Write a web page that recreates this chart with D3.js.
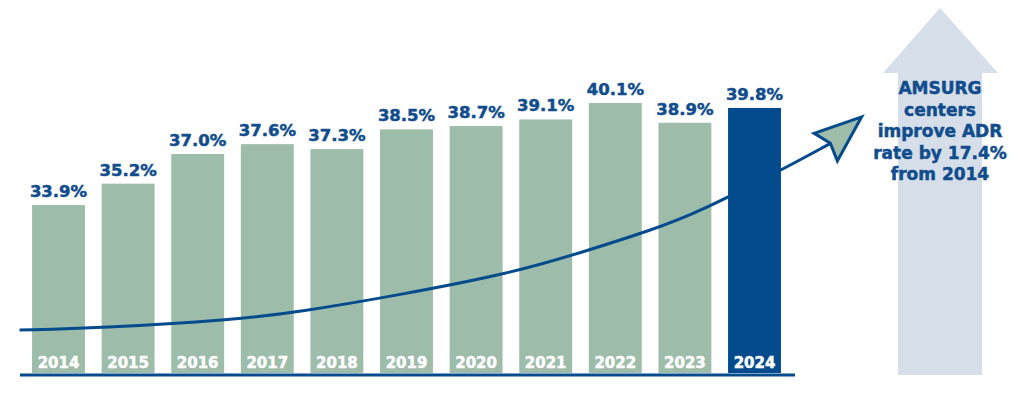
<!DOCTYPE html>
<html>
<head>
<meta charset="utf-8">
<script src="https://cdn.jsdelivr.net/npm/d3@7"></script>
<style>
  html, body { margin: 0; padding: 0; background: #fff; }
  svg { display: block; }
  text { font-family: "DejaVu Sans", sans-serif; font-weight: bold; }
</style>
</head>
<body>
<svg width="1024" height="395"></svg>
<script>
const years = [2014, 2015, 2016, 2017, 2018, 2019, 2020, 2021, 2022, 2023, 2024];
const values = [33.9, 35.2, 37.0, 37.6, 37.3, 38.5, 38.7, 39.1, 40.1, 38.9, 39.8];
const highlightYear = 2024;

// trend curve (fractional year, value); last point is the arrow tip
const trendYears = [2013.44, 2014.59, 2016.50, 2017.46, 2018.90, 2020.52, 2021.49, 2022.53, 2023.21, 2024.39, 2025.08, 2025.54];
const trendValues = [26.31, 26.44, 26.92, 27.41, 28.44, 29.78, 30.99, 32.39, 33.49, 36.04, 37.62, 39.26];

const calloutLines = ['AMSURG', 'centers', 'improve ADR', 'rate by 17.4%', 'from 2014'];

const green = '#9dbca9';
const navy = '#034b8c';
const textBlue = '#114d8d';
const arrowGrey = '#d6dfe9';

const svg = d3.select('svg');

const x = d3.scaleBand()
  .domain(years)
  .range([23.7, 789.3])
  .paddingInner(0.24)
  .paddingOuter(0.12);

const y = d3.scaleLinear()
  .domain([23.7, 40.1])
  .range([373, 103]);

const xYear = d3.scaleLinear()
  .domain([2014, 2024])
  .range([x(2014) + x.bandwidth() / 2, x(2024) + x.bandwidth() / 2]);

// big background arrow on the right
const big = svg.append('g').attr('class', 'big-arrow');
big.append('path')
  .attr('d', 'M940,8 L998,73 L982,73 L982,375 L898,375 L898,73 L883,73 Z')
  .attr('fill', arrowGrey);

big.selectAll('text')
  .data(calloutLines)
  .enter()
  .append('text')
  .attr('x', 940)
  .attr('y', (d, i) => 94 + i * 21.5)
  .attr('text-anchor', 'middle')
  .attr('font-size', 17)
  .attr('fill', textBlue)
  .attr('stroke', textBlue)
  .attr('stroke-width', 0.5)
  .text(d => d);

// bars
const bars = svg.append('g').attr('class', 'bars');
bars.selectAll('rect')
  .data(years)
  .enter()
  .append('rect')
  .attr('x', d => x(d))
  .attr('width', x.bandwidth())
  .attr('y', (d, i) => y(values[i]))
  .attr('height', (d, i) => y.range()[0] - y(values[i]))
  .attr('fill', d => d == highlightYear ? navy : green);

// value labels
bars.selectAll('text.value')
  .data(years)
  .enter()
  .append('text')
  .attr('class', 'value')
  .attr('x', d => x(d) + x.bandwidth() / 2)
  .attr('y', (d, i) => y(values[i]) - 8)
  .attr('text-anchor', 'middle')
  .attr('font-size', 16.5)
  .attr('fill', textBlue)
  .attr('stroke', textBlue)
  .attr('stroke-width', 0.5)
  .text((d, i) => values[i].toFixed(1) + '%');

// year labels inside bars
bars.selectAll('text.year')
  .data(years)
  .enter()
  .append('text')
  .attr('class', 'year')
  .attr('x', d => x(d) + x.bandwidth() / 2)
  .attr('y', y.range()[0] - 5)
  .attr('text-anchor', 'middle')
  .attr('font-size', 15)
  .attr('fill', '#fff')
  .attr('stroke', '#fff')
  .attr('stroke-width', 0.5)
  .text(d => d);

// baseline
svg.append('line')
  .attr('x1', 20)
  .attr('x2', 795)
  .attr('y1', y.range()[0] + 2)
  .attr('y2', y.range()[0] + 2)
  .attr('stroke', navy)
  .attr('stroke-width', 3);

// trend curve
const pts = trendYears.map((t, i) => [xYear(t), y(trendValues[i])]);
const curvePts = pts.slice(0, pts.length - 1);

svg.append('path')
  .attr('d', d3.line().curve(d3.curveBasis)(curvePts))
  .attr('fill', 'none')
  .attr('stroke', navy)
  .attr('stroke-width', 3);

// arrow head
const tip = pts[pts.length - 1];
const prev = pts[pts.length - 2];
const dx = tip[0] - prev[0], dy = tip[1] - prev[1];
const len = Math.sqrt(dx * dx + dy * dy);
const ux = dx / len, uy = dy / len;
const headLen = 47, halfW = 18;
const bx = tip[0] - ux * headLen, by = tip[1] - uy * headLen;
const head = [
  tip,
  [bx - uy * halfW, by + ux * halfW],
  [bx + ux * 6, by + uy * 6],
  [bx + uy * halfW, by - ux * halfW]
];
svg.append('path')
  .attr('d', 'M' + head.map(p => p.join(',')).join('L') + 'Z')
  .attr('fill', green)
  .attr('stroke', navy)
  .attr('stroke-width', 3)
  .attr('stroke-linejoin', 'miter');
</script>
</body>
</html>
